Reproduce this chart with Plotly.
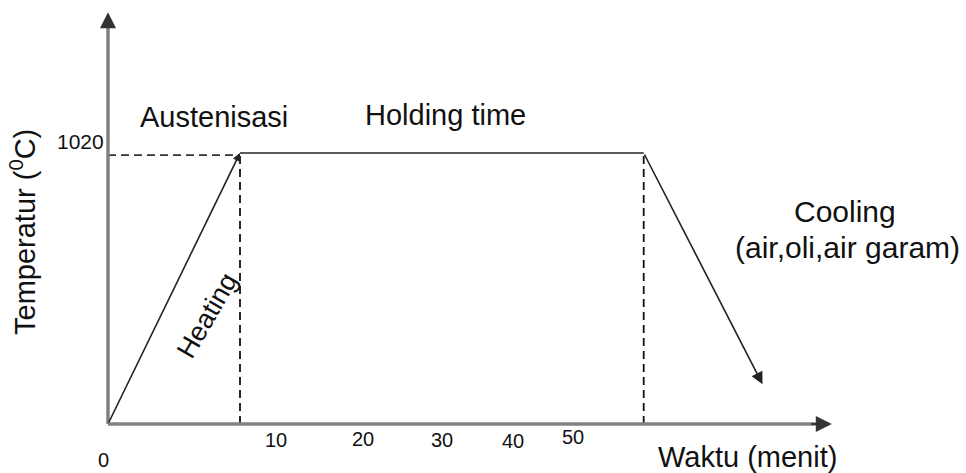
import plotly.graph_objects as go

# ---- data (schematic time units, temperature in deg C) ----
phase_time = [0, 12, 48.7, 59.5]          # start, end heating, end holding, end cooling
phase_temp = [0, 1020, 1020, 150]
axis_time_max = 65.8
axis_temp_max = 1550
tick_labels = ["0", "10", "20", "30", "40", "50"]
tick_px = [(103, 460), (276, 440), (363, 439), (442, 440), (513, 441), (573, 437)]
temp_label = "1020"

W, H = 966, 473
X0PX, Y0PX = 108, 424
KX = 11.0                     # px per time unit
KY = 271 / 1020               # px per deg C

x_range = [-X0PX / KX, (W - X0PX) / KX]
y_range = [-(H - Y0PX) / KY, Y0PX / KY]

FONT = "Liberation Sans, Arial, sans-serif"
TXT = "#111111"
LINE = "#222222"
AX = "#808080"

fig = go.Figure()

# holding line
fig.add_trace(go.Scatter(x=phase_time[1:3], y=phase_temp[1:3], mode="lines",
                         line=dict(color=LINE, width=1.6), hoverinfo="skip"))
# dashed guides
fig.add_trace(go.Scatter(x=[0, phase_time[1]], y=[phase_temp[1] - 8, phase_temp[1] - 8], mode="lines",
                         line=dict(color="#333333", width=1.6, dash="8px,5px"), hoverinfo="skip"))
for i in (1, 2):
    fig.add_trace(go.Scatter(x=[phase_time[i], phase_time[i]], y=[0, phase_temp[i]], mode="lines",
                             line=dict(color="#111111", width=1.8, dash="8px,5px"), hoverinfo="skip"))

shapes = [
    dict(type="line", xref="x", yref="y", x0=0, y0=0, x1=0, y1=axis_temp_max - 40,
         line=dict(color=AX, width=3.5)),
    dict(type="line", xref="x", yref="y", x0=0, y0=0, x1=axis_time_max - 1.2, y1=0,
         line=dict(color=AX, width=3.5)),
]

ann = []
# axis arrowheads
ann.append(dict(x=0, y=axis_temp_max, ax=0, ay=axis_temp_max - 60, xref="x", yref="y",
                axref="x", ayref="y", showarrow=True, arrowhead=2, arrowsize=1.6,
                arrowwidth=2, arrowcolor="#333333", text="", standoff=0))
ann.append(dict(x=axis_time_max, y=0, ax=axis_time_max - 2, ay=0, xref="x", yref="y",
                axref="x", ayref="y", showarrow=True, arrowhead=2, arrowsize=1.6,
                arrowwidth=2, arrowcolor="#333333", text="", standoff=0))
# heating arrow
ann.append(dict(x=phase_time[1], y=phase_temp[1], ax=phase_time[0], ay=phase_temp[0],
                xref="x", yref="y", axref="x", ayref="y", showarrow=True, arrowhead=2,
                arrowsize=1.0, arrowwidth=1.6, arrowcolor=LINE, text="", standoff=0))
# cooling arrow
ann.append(dict(x=phase_time[3], y=phase_temp[3], ax=phase_time[2], ay=phase_temp[2],
                xref="x", yref="y", axref="x", ayref="y", showarrow=True, arrowhead=2,
                arrowsize=1.5, arrowwidth=1.6, arrowcolor=LINE, text="", standoff=0))


def txt(text, px, py, size, angle=0):
    ann.append(dict(text=text, x=px / W, y=1 - py / H, xref="paper", yref="paper",
                    showarrow=False, textangle=angle, xanchor="center", yanchor="middle",
                    font=dict(family=FONT, size=size, color=TXT)))


for lab, (px, py) in zip(tick_labels, tick_px):
    txt(lab, px, py, 20)
txt(temp_label, 80, 141, 21)
txt("Austenisasi", 214, 117, 29)
txt("Holding time", 445, 115, 29)
txt("Heating", 207, 316, 27, angle=-60)
txt("Cooling", 845, 212, 30)
txt("(air,oli,air garam)", 847, 247, 30)
txt("Waktu (menit)", 747, 457, 29)
txt("Temperatur (<sup>0</sup>C)", 23, 232, 29, angle=-90)

fig.update_layout(
    width=W, height=H, margin=dict(l=0, r=0, t=0, b=0),
    paper_bgcolor="white", plot_bgcolor="white", showlegend=False,
    xaxis=dict(range=x_range, visible=False, fixedrange=True),
    yaxis=dict(range=y_range, visible=False, fixedrange=True),
    shapes=shapes, annotations=ann,
)

fig.write_html("out.html", config={"displayModeBar": False},
               post_script="document.body.style.margin='0';document.body.style.overflow='hidden';")
